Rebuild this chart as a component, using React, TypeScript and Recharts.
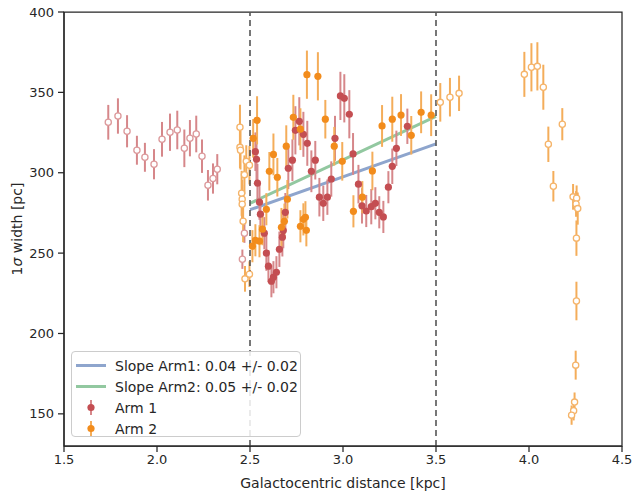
import React from 'react';
import {
  ComposedChart,
  Scatter,
  Line,
  XAxis,
  YAxis,
  ErrorBar,
  ReferenceLine,
  ReferenceArea,
} from 'recharts';

// ---- Arm 1 (outside 2.5-3.5 kpc, open markers)
const arm1OutX = [1.738, 1.79, 1.839, 1.892, 1.935, 1.984, 2.027, 2.07, 2.109, 2.147, 2.177, 2.211, 2.242, 2.274, 2.301, 2.324, 2.47, 2.459];
const arm1OutY = [331.4, 335.3, 325.8, 314.0, 309.6, 305.3, 320.8, 325.2, 326.6, 315.2, 321.5, 324.1, 310.3, 292.2, 296.4, 302.2, 262.4, 246.2];
const arm1OutE = [10.8, 11, 10, 9, 9, 9.4, 10.8, 11.6, 12, 11.7, 11.3, 11.4, 10.4, 9.5, 9.4, 9.4, 6, 6];

// ---- Arm 1 (inside, filled markers)
const arm1InX = [2.529, 2.535, 2.54, 2.551, 2.556, 2.577, 2.588, 2.599, 2.615, 2.626, 2.642, 2.658, 2.674, 2.679, 2.69, 2.706, 2.728, 2.744, 2.765, 2.787, 2.808, 2.83, 2.851, 2.873, 2.894, 2.916, 2.937, 2.957, 2.986, 3.007, 3.034, 3.054, 3.083, 3.102, 3.125, 3.152, 3.174, 3.195, 3.217, 3.244, 3.265, 3.287, 3.346];
const arm1InY = [313.1, 308.4, 293.5, 281.7, 274.2, 262.4, 250.0, 241.9, 232.5, 235.0, 238.1, 252.4, 259.9, 264.0, 275.4, 302.8, 307.8, 326.4, 332.0, 323.9, 318.3, 300.9, 307.8, 284.8, 281.0, 284.8, 296.1, 321.4, 347.8, 346.3, 336.4, 311.7, 292.9, 279.4, 276.2, 278.9, 281.0, 275.4, 272.5, 291.0, 304.0, 315.2, 328.9];
const arm1InE = [12, 13, 12, 11, 10, 10, 11, 10, 10, 10, 10, 11, 12, 11, 12, 13, 13, 15, 15, 14, 14, 13, 12, 12, 11, 11, 11, 14, 15, 15, 15, 13, 12, 11, 10, 11, 10, 10, 10, 10, 11, 11, 11];

// ---- Arm 2 (inside, filled markers)
const arm2InX = [2.513, 2.517, 2.529, 2.538, 2.551, 2.567, 2.588, 2.604, 2.626, 2.647, 2.669, 2.685, 2.695, 2.701, 2.733, 2.771, 2.771, 2.787, 2.798, 2.803, 2.806, 2.865, 2.905, 2.953, 2.996, 3.056, 3.104, 3.158, 3.21, 3.265, 3.312, 3.367, 3.42, 3.474];
const arm2InY = [254.3, 321.4, 258.0, 332.6, 257.4, 264.9, 277.3, 300.9, 311.4, 297.2, 266.1, 269.8, 316.5, 283.5, 334.5, 327.1, 266.7, 271.0, 272.3, 264.2, 361.0, 360.0, 333.3, 316.5, 307.1, 276.0, 284.8, 301.1, 329.1, 333.3, 335.9, 323.3, 337.6, 335.8];
const arm2InE = [10, 12, 10, 15, 10, 10, 10, 12, 13, 12, 12, 11, 13, 12, 14, 13, 10, 10, 10, 10, 15, 15, 12, 12, 12, 10, 10, 12, 13, 14, 13, 12, 13, 13];

// ---- Arm 2 (outside, open markers)
const arm2OutX = [2.446, 2.446, 2.449, 2.48, 2.497, 2.47, 2.455, 2.458, 2.458, 2.463, 2.473, 2.497, 3.523, 3.575, 3.624, 3.975, 4.013, 4.045, 4.077, 4.104, 4.131, 4.179, 4.237, 4.256, 4.253, 4.262, 4.255, 4.255, 4.251, 4.245, 4.24, 4.229];
const arm2OutY = [328.3, 315.8, 314.0, 307.1, 304.7, 298.8, 287.2, 283.5, 280.4, 269.8, 234.0, 236.9, 343.8, 347.0, 349.4, 361.2, 365.6, 366.2, 353.2, 317.7, 291.6, 330.2, 285.0, 284.1, 280.6, 277.7, 259.3, 220.2, 180.3, 157.3, 151.9, 149.2];
const arm2OutE = [14, 13, 12, 10, 12, 12, 14, 12, 12, 13, 8, 8, 12, 12, 11, 14, 15, 15, 14, 11, 9.5, 10, 8, 8, 8, 10, 11, 12, 9, 6, 6, 6];

// ---- Fitted slopes
const slopeX = [2.5, 3.5];
const slope1Y = [277, 318];
const slope2Y = [281, 335];

// ---- Axis ticks / bounds
const xTicks = [1.5, 2.0, 2.5, 3.0, 3.5, 4.0, 4.5];
const yTicks = [150, 200, 250, 300, 350, 400];
const regionBounds = [2.5, 3.5];

const zip = (xs: number[], ys: number[], es?: number[]) =>
  xs.map((x, i) => ({ x, y: ys[i], e: es ? es[i] : 0 }));

const arm1Out = zip(arm1OutX, arm1OutY, arm1OutE);
const arm1In = zip(arm1InX, arm1InY, arm1InE);
const arm2Out = zip(arm2OutX, arm2OutY, arm2OutE);
const arm2In = zip(arm2InX, arm2InY, arm2InE);
const slope1 = zip(slopeX, slope1Y);
const slope2 = zip(slopeX, slope2Y);

const RED = '#c44e52';
const RED_ERR = '#d6878a';
const ORANGE = '#f28c1c';
const ORANGE_ERR = '#f4ad5a';
const OPEN_RED = '#dc9a9c';
const OPEN_ORANGE = '#f5b46a';
const BLUE = '#8ea5cd';
const GREEN = '#92c8a0';
const INK = '#262626';
const FONT = 'DejaVu Sans';

const filled = (color: string) => (p: any) =>
  <circle cx={p.cx} cy={p.cy} r={3.6} fill={color} />;
const open = (color: string) => (p: any) =>
  <circle cx={p.cx} cy={p.cy} r={3.1} fill="#ffffff" stroke={color} strokeWidth={1.3} />;

const YLabel = (props: any) => {
  const vb = props.viewBox || {};
  const cy = vb.y + vb.height / 2;
  const cx = 17;
  return (
    <text x={cx} y={cy} transform={`rotate(-90 ${cx} ${cy})`} textAnchor="middle" dominantBaseline="central"
      fontFamily={FONT} fontSize={14} fill={INK}>
      <tspan>1</tspan>
      <tspan fontStyle="italic">σ</tspan>
      <tspan> width [pc]</tspan>
    </text>
  );
};

const LegendBox = () => {
  const rows = [
    { kind: 'line', color: BLUE, label: 'Slope Arm1: 0.04 +/- 0.02' },
    { kind: 'line', color: GREEN, label: 'Slope Arm2: 0.05 +/- 0.02' },
    { kind: 'pt', color: RED, err: RED_ERR, label: 'Arm 1' },
    { kind: 'pt', color: ORANGE, err: ORANGE_ERR, label: 'Arm 2' },
  ];
  return (
    <div style={{
      position: 'absolute', left: 71, top: 351, width: 230, height: 86,
      border: '1px solid #cccccc', borderRadius: 4, background: 'rgba(255,255,255,0.85)',
      boxSizing: 'border-box', fontFamily: FONT, fontSize: 14, color: INK,
    }}>
      {rows.map((r, i) => (
        <div key={i} style={{ position: 'absolute', left: 0, top: 3 + i * 21, height: 21, display: 'flex', alignItems: 'center' }}>
          <svg width={43} height={21} style={{ display: 'block' }}>
            {r.kind === 'line' ? (
              <line x1={4} x2={34} y1={10.5} y2={10.5} stroke={r.color} strokeWidth={3} />
            ) : (
              <g>
                <line x1={19} x2={19} y1={3} y2={18} stroke={r.err} strokeWidth={2} />
                <circle cx={19} cy={10.5} r={3.6} fill={r.color} />
              </g>
            )}
          </svg>
          <span style={{ whiteSpace: 'nowrap' }}>{r.label}</span>
        </div>
      ))}
    </div>
  );
};

export default function App() {
  return (
    <div style={{ position: 'absolute', left: 0, top: 0, width: 639, height: 494, background: '#fff' }}>
      <ComposedChart width={639} height={494} margin={{ top: 12, right: 17, bottom: 0, left: 0 }}>
        <XAxis
          dataKey="x"
          type="number"
          domain={[1.5, 4.5]}
          ticks={xTicks}
          allowDataOverflow
          tickFormatter={(v: number) => v.toFixed(1)}
          height={48}
          tickSize={6}
          tickMargin={3}
          stroke={INK}
          tick={{ fill: INK, fontSize: 13, fontFamily: FONT }}
          axisLine={{ stroke: INK, strokeWidth: 1.25 }}
          tickLine={{ stroke: INK, strokeWidth: 1.25 }}
          label={{ value: 'Galactocentric distance [kpc]', position: 'insideBottom', offset: 6, fill: INK, fontSize: 14, fontFamily: FONT }}
        />
        <YAxis
          dataKey="y"
          type="number"
          domain={[130, 400]}
          ticks={yTicks}
          allowDataOverflow
          width={64}
          tickSize={6}
          tickMargin={4}
          stroke={INK}
          tick={{ fill: INK, fontSize: 13, fontFamily: FONT }}
          axisLine={{ stroke: INK, strokeWidth: 1.25 }}
          tickLine={{ stroke: INK, strokeWidth: 1.25 }}
          label={<YLabel />}
        />
        <ReferenceArea x1={1.5} x2={4.5} y1={130} y2={400} fill="none" stroke={INK} strokeWidth={1.25} ifOverflow="visible" />
        <Line data={slope1} dataKey="y" stroke={BLUE} strokeWidth={3} dot={false} isAnimationActive={false} legendType="none" />
        <Line data={slope2} dataKey="y" stroke={GREEN} strokeWidth={3} dot={false} isAnimationActive={false} legendType="none" />
        <Scatter data={arm1Out} dataKey="y" shape={open(OPEN_RED)} isAnimationActive={false}>
          <ErrorBar dataKey="e" direction="y" width={0} stroke={RED_ERR} strokeWidth={2} />
        </Scatter>
        <Scatter data={arm1In} dataKey="y" shape={filled(RED)} isAnimationActive={false}>
          <ErrorBar dataKey="e" direction="y" width={0} stroke={RED_ERR} strokeWidth={2} />
        </Scatter>
        <Scatter data={arm2Out} dataKey="y" shape={open(OPEN_ORANGE)} isAnimationActive={false}>
          <ErrorBar dataKey="e" direction="y" width={0} stroke={ORANGE_ERR} strokeWidth={2} />
        </Scatter>
        <Scatter data={arm2In} dataKey="y" shape={filled(ORANGE)} isAnimationActive={false}>
          <ErrorBar dataKey="e" direction="y" width={0} stroke={ORANGE_ERR} strokeWidth={2} />
        </Scatter>
        {regionBounds.map((b) => (
          <ReferenceLine key={b} x={b} stroke="#555555" strokeWidth={1.6} strokeDasharray="6 4" />
        ))}
      </ComposedChart>
      <LegendBox />
    </div>
  );
}
